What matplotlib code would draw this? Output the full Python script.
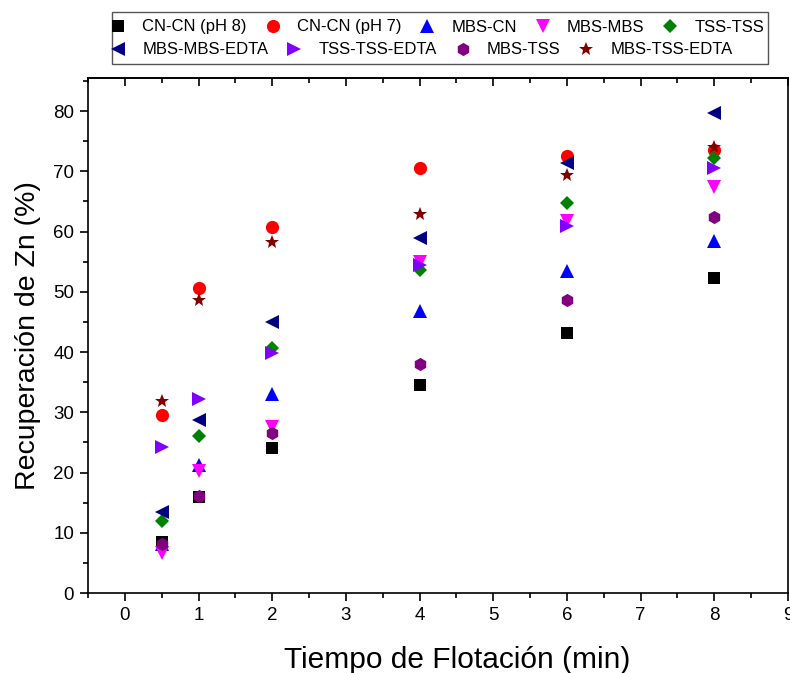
import matplotlib
matplotlib.use("Agg")
import matplotlib.pyplot as plt
from matplotlib.ticker import MultipleLocator
from matplotlib.patches import Rectangle

plt.rcParams['font.family'] = ['Liberation Sans', 'DejaVu Sans']

# Flotation time (min)
time_min = [0.5, 1, 2, 4, 6, 8]

# Zn recovery (%) for each reagent scheme
cn_cn_ph8 = [8.5, 16.0, 24.0, 34.6, 43.2, 52.3]
cn_cn_ph7 = [29.5, 50.7, 60.8, 70.6, 72.6, 73.6]
mbs_cn = [8.2, 21.2, 33.0, 46.8, 53.4, 58.4]
mbs_mbs = [6.6, 20.2, 27.6, 55.0, 61.7, 67.4]
tss_tss = [12.0, 26.1, 40.7, 53.6, 64.8, 72.2]
mbs_mbs_edta = [13.4, 28.8, 45.0, 59.0, 71.4, 79.7]
tss_tss_edta = [24.3, 32.2, 39.8, 54.5, 61.0, 70.5]
mbs_tss = [8.2, 16.1, 26.5, 38.1, 48.6, 62.5]
mbs_tss_edta = [31.9, 48.6, 58.3, 63.0, 69.4, 74.1]

labels = ["CN-CN (pH 8)", "CN-CN (pH 7)", "MBS-CN", "MBS-MBS", "TSS-TSS",
          "MBS-MBS-EDTA", "TSS-TSS-EDTA", "MBS-TSS", "MBS-TSS-EDTA"]
series = [cn_cn_ph8, cn_cn_ph7, mbs_cn, mbs_mbs, tss_tss,
          mbs_mbs_edta, tss_tss_edta, mbs_tss, mbs_tss_edta]
markers = ["s", "o", "^", "v", "D", "<", ">", "h", "*"]
colors = ["#000000", "#FF0000", "#0000FF", "#FF00FF", "#008000",
          "#000080", "#8000FF", "#800080", "#800000"]
sizes = [8, 9.5, 9.5, 9.5, 7.5, 9.5, 9.5, 9.5, 10.5]

fig = plt.figure(figsize=(7.9, 6.73), dpi=100)
ax = fig.add_axes([88 / 790, 1 - 593 / 673, 700 / 790, (593 - 78) / 673])

handles = []
for y, lab, m, c, ms in zip(series, labels, markers, colors, sizes):
    h, = ax.plot(time_min, y, linestyle="none", marker=m, color=c,
                 markersize=ms, markeredgewidth=0, label=lab)
    handles.append(h)

ax.set_xlim(-0.5, 9)
ax.set_ylim(0, 85.5)
ax.xaxis.set_major_locator(MultipleLocator(1))
ax.xaxis.set_minor_locator(MultipleLocator(0.5))
ax.yaxis.set_major_locator(MultipleLocator(10))
ax.yaxis.set_minor_locator(MultipleLocator(5))

for sp in ax.spines.values():
    sp.set_linewidth(1.2)

ax.tick_params(axis="both", which="major", direction="out", length=6,
               width=1.2, labelsize=13.5, pad=4)
ax.tick_params(axis="both", which="minor", direction="out", length=3.5,
               width=1.2)

top = ax.secondary_xaxis("top")
top.xaxis.set_major_locator(MultipleLocator(1))
top.xaxis.set_minor_locator(MultipleLocator(0.5))
top.tick_params(which="major", direction="in", length=6, width=1.2,
                labeltop=False)
top.tick_params(which="minor", direction="in", length=3.5, width=1.2)
top.spines["top"].set_linewidth(1.2)

ax.set_xlabel("Tiempo de Flotación (min)", fontsize=21.5)
ax.xaxis.set_label_coords(0.527, -0.102)
ax.set_ylabel("Recuperación de Zn (%)", fontsize=20.5, labelpad=9)

# Two-row legend inside one frame
frame = Rectangle((112 / 790, 1 - 64 / 673), (768 - 112) / 790, 52 / 673,
                  transform=fig.transFigure, fill=False,
                  edgecolor="#555555", linewidth=1.0)
fig.patches.append(frame)

leg_kw = dict(frameon=False, fontsize=12, handletextpad=0.95,
              columnspacing=1.05, handlelength=1.0, borderpad=0.0,
              borderaxespad=0.0)
leg1 = fig.legend(handles[:5], labels[:5], ncol=5, loc="center left",
                  bbox_to_anchor=(110 / 790, 1 - 27 / 673), **leg_kw)
leg2 = fig.legend(handles[5:], labels[5:], ncol=4, loc="center left",
                  bbox_to_anchor=(110 / 790, 1 - 50 / 673), **leg_kw)

fig.savefig("out.png", dpi=100)
